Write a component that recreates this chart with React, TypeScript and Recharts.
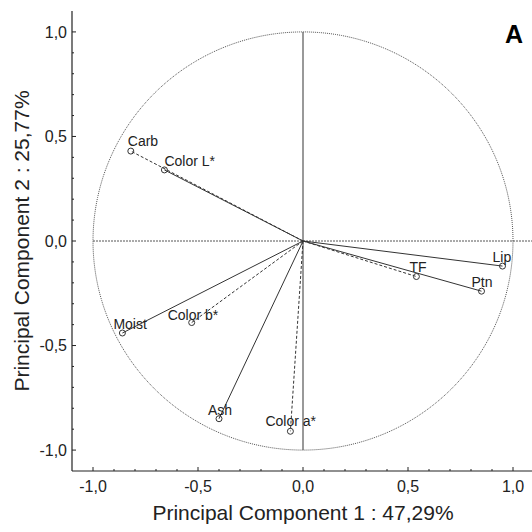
import React from 'react';
import {
  ScatterChart,
  Scatter,
  XAxis,
  YAxis,
  ReferenceLine,
} from 'recharts';

// PCA loadings
const variables = ['Carb', 'Color L*', 'Moist', 'Color b*', 'Ash', 'Color a*', 'TF', 'Ptn', 'Lip'];
const pc1 = [-0.82, -0.66, -0.86, -0.53, -0.4, -0.06, 0.54, 0.85, 0.95];
const pc2 = [0.43, 0.34, -0.44, -0.39, -0.85, -0.91, -0.17, -0.24, -0.12];

// axis ticks (every 0.1, labels every 0.5)
const axisTicks = [-1, -0.9, -0.8, -0.7, -0.6, -0.5, -0.4, -0.3, -0.2, -0.1, 0, 0.1, 0.2, 0.3, 0.4, 0.5, 0.6, 0.7, 0.8, 0.9, 1];
const domain: [number, number] = [-1.1, 1.1];

const xTitle = 'Principal Component 1 : 47,29%';
const yTitle = 'Principal Component 2 : 25,77%';

// how each vector is drawn and where its name sits relative to the marker
const dashedVectors = ['Carb', 'Color b*', 'Color a*', 'TF'];
const labelOffset: Record<string, [number, number]> = {
  'Carb': [-3, -5],
  'Color L*': [0, -4],
  'Moist': [-9, -4],
  'Color b*': [-24, -3],
  'Ash': [-11, -4],
  'Color a*': [-25, -5],
  'TF': [-7, -5],
  'Ptn': [-10, -4],
  'Lip': [-10, -4],
};

const points = variables.map((name, i) => ({ name, x: pc1[i], y: pc2[i] }));

// unit correlation circle (geometry, not data)
const circle = Array.from({ length: 241 }, (_, i) => {
  const a = (i / 240) * Math.PI * 2;
  return { x: Math.cos(a), y: Math.sin(a) };
});

const FONT = '"Liberation Sans", Arial, Helvetica, sans-serif';
const INK = '#222';

const isMajor = (v: number) => Math.abs(v * 2 - Math.round(v * 2)) < 1e-6;
const fmt = (v: number) => v.toFixed(1).replace('.', ',');
const tickLen = (v: number) => (isMajor(v) ? 4 : 2);

const BottomTick = (props: any) => {
  const { x, y, payload } = props;
  const v = payload.value;
  return (
    <g>
      <line x1={x} x2={x} y1={y} y2={y - tickLen(v)} stroke={INK} />
      {isMajor(v) && (
        <text x={x} y={y + 10} dy="0.71em" textAnchor="middle" fontSize={16} fontFamily={FONT} fill={INK}>
          {fmt(v)}
        </text>
      )}
    </g>
  );
};

const TopTick = (props: any) => {
  const { x, y, payload } = props;
  return <line x1={x} x2={x} y1={y} y2={y + tickLen(payload.value)} stroke={INK} />;
};

const LeftTick = (props: any) => {
  const { x, y, payload } = props;
  const v = payload.value;
  return (
    <g>
      <line x1={x} x2={x + tickLen(v)} y1={y} y2={y} stroke={INK} />
      {isMajor(v) && (
        <text x={x - 5} y={y} dy="0.355em" textAnchor="end" fontSize={16} fontFamily={FONT} fill={INK}>
          {fmt(v)}
        </text>
      )}
    </g>
  );
};

const RightTick = (props: any) => {
  const { x, y, payload } = props;
  return <line x1={x} x2={x - tickLen(payload.value)} y1={y} y2={y} stroke={INK} />;
};

const Marker = (props: any) => {
  const { cx, cy, payload } = props;
  const [dx, dy] = labelOffset[payload.name] || [0, -4];
  return (
    <g>
      <circle cx={cx} cy={cy} r={3} fill="none" stroke="#333" strokeWidth={1} />
      <text x={cx + dx} y={cy + dy} fontSize={14} fontFamily={FONT} fill={INK}>
        {payload.name}
      </text>
    </g>
  );
};

export default function App() {
  return (
    <div style={{ position: 'absolute', left: 0, top: 0, width: 532, height: 532, overflow: 'hidden', background: '#fff' }}>
      <ScatterChart width={540} height={532} margin={{ top: 11, right: 6, bottom: 0, left: 0 }}>
        <XAxis
          type="number"
          dataKey="x"
          domain={domain}
          ticks={axisTicks}
          interval={0}
          height={61}
          tickSize={0}
          tickMargin={0}
          tickLine={false}
          tick={<BottomTick />}
          axisLine={{ stroke: INK, strokeWidth: 1.2 }}
          allowDataOverflow
          label={{ value: xTitle, position: 'insideBottom', offset: 12, fontSize: 21, fontFamily: FONT, fill: INK }}
        />
        <XAxis
          xAxisId="top"
          orientation="top"
          type="number"
          dataKey="x"
          domain={domain}
          ticks={axisTicks}
          interval={0}
          height={0}
          tickSize={0}
          tickMargin={0}
          tickLine={false}
          tick={<TopTick />}
          axisLine={{ stroke: '#000', strokeWidth: 1.5 }}
          allowDataOverflow
        />
        <YAxis
          type="number"
          dataKey="y"
          domain={domain}
          ticks={axisTicks}
          interval={0}
          width={72}
          tickSize={0}
          tickMargin={0}
          tickLine={false}
          tick={<LeftTick />}
          axisLine={{ stroke: INK, strokeWidth: 1.2 }}
          allowDataOverflow
          label={{
            value: yTitle,
            angle: -90,
            position: 'insideLeft',
            offset: 22,
            fontSize: 21,
            fontFamily: FONT,
            fill: INK,
            style: { textAnchor: 'middle' },
          }}
        />
        <YAxis
          yAxisId="right"
          orientation="right"
          type="number"
          dataKey="y"
          domain={domain}
          ticks={axisTicks}
          interval={0}
          width={0}
          tickSize={0}
          tickMargin={0}
          tickLine={false}
          tick={<RightTick />}
          axisLine={{ stroke: INK, strokeWidth: 1.2 }}
          allowDataOverflow
        />

        {/* correlation circle */}
        <Scatter
          data={circle}
          line={{ stroke: '#555', strokeWidth: 1, strokeDasharray: '1 1' }}
          shape={() => <g />}
          isAnimationActive={false}
        />

        {/* origin axes */}
        <ReferenceLine
          segment={[{ x: domain[0] + 0.1, y: 0 }, { x: domain[1], y: 0 }]}
          stroke="#555"
          strokeDasharray="2 1"
          ifOverflow="visible"
        />
        <ReferenceLine
          segment={[{ x: 0, y: -1 }, { x: 0, y: 1 }]}
          stroke="#777"
          strokeWidth={1.5}
          ifOverflow="visible"
        />

        {/* loading vectors */}
        {points.map((p) => (
          <ReferenceLine
            key={p.name}
            segment={[{ x: 0, y: 0 }, { x: p.x, y: p.y }]}
            stroke="#333"
            strokeWidth={1}
            strokeDasharray={dashedVectors.includes(p.name) ? '3 2' : undefined}
            ifOverflow="visible"
          />
        ))}

        <Scatter data={points} shape={<Marker />} isAnimationActive={false} />
      </ScatterChart>
      <svg width={532} height={532} style={{ position: 'absolute', left: 0, top: 0, pointerEvents: 'none' }}>
        <text x={505} y={43} fontSize={25} fontWeight="bold" fontFamily={FONT} fill="#000">
          A
        </text>
      </svg>
    </div>
  );
}
